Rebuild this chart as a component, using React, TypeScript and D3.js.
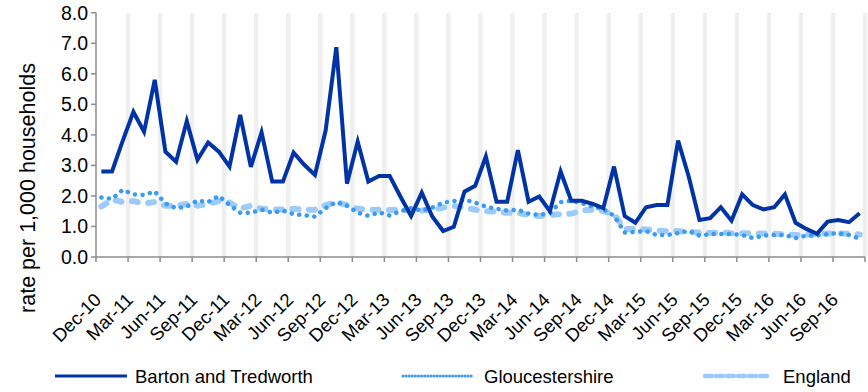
import React from 'react';
import * as d3 from 'd3';

// 72 monthly categories, Dec-10 .. Nov-16
const categories: string[] = d3
  .timeMonth.range(new Date(2010, 11, 1), new Date(2016, 11, 1))
  .map((d) => d3.timeFormat('%b-%y')(d));

const tickEvery = 3;
const yTicks = [0, 1, 2, 3, 4, 5, 6, 7, 8];

const barton = [
  2.8, 2.8, 3.8, 4.75, 4.1, 5.8, 3.45, 3.12, 4.45, 3.18,
  3.75, 3.45, 2.96, 4.65, 2.95, 4.08, 2.47, 2.47, 3.42, 3.02,
  2.69, 4.14, 6.87, 2.4, 3.78, 2.47, 2.65, 2.65, 1.98, 1.34,
  2.11, 1.32, 0.85, 0.99, 2.14, 2.33, 3.29, 1.81, 1.81, 3.5,
  1.81, 1.98, 1.5, 2.8, 1.84, 1.84, 1.74, 1.6, 2.96, 1.34,
  1.12, 1.63, 1.7, 1.7, 3.81, 2.63, 1.21, 1.27, 1.63, 1.19,
  2.05, 1.7, 1.56, 1.63, 2.05, 1.12, 0.92, 0.76, 1.16, 1.21,
  1.14, 1.43,
];

const gloucestershire = [
  1.95, 1.9, 2.2, 2.05, 2.03, 2.15, 1.75, 1.6, 1.65, 1.85,
  1.8, 2.0, 1.7, 1.45, 1.45, 1.55, 1.45, 1.52, 1.4, 1.37,
  1.32, 1.6, 1.8, 1.68, 1.45, 1.35, 1.46, 1.36, 1.5, 1.6,
  1.52, 1.62, 1.78, 1.83, 1.88, 1.78, 1.65, 1.58, 1.52, 1.55,
  1.42, 1.38, 1.44, 1.8, 1.84, 1.76, 1.65, 1.57, 1.35, 0.8,
  0.82, 0.85, 0.72, 0.72, 0.78, 0.86, 0.7, 0.75, 0.75, 0.75,
  0.72, 0.62, 0.7, 0.72, 0.72, 0.62, 0.7, 0.7, 0.75, 0.78,
  0.72, 0.6,
];

const england = [
  1.65, 1.88, 1.8, 1.83, 1.75, 1.8, 1.68, 1.68, 1.74, 1.68,
  1.74, 1.83, 1.78, 1.58, 1.68, 1.58, 1.55, 1.56, 1.57, 1.55,
  1.55, 1.7, 1.8, 1.7, 1.58, 1.55, 1.55, 1.54, 1.55, 1.52,
  1.52, 1.55, 1.62, 1.67, 1.62, 1.55, 1.5, 1.48, 1.45, 1.44,
  1.38, 1.34, 1.38, 1.4, 1.42, 1.52, 1.55, 1.5, 1.4, 0.92,
  0.92, 0.9, 0.87, 0.84, 0.85, 0.82, 0.8, 0.79, 0.8, 0.78,
  0.78, 0.77, 0.77, 0.76, 0.74, 0.72, 0.73, 0.74, 0.77, 0.77,
  0.76, 0.74,
];

const seriesNames = ['Barton and Tredworth', 'Gloucestershire', 'England'];

const W = 868;
const H = 392;
const M = { left: 96, right: 865, top: 12.7, bottom: 257 };
const FONT = 'Liberation Sans, Arial, sans-serif';

const C_BARTON = '#0033a6';
const C_GLOS = '#3a9bf5';
const C_ENG = '#9ccbfb';
const C_AXIS = '#8c8c8c';
const C_GRID = '#efefef';

export default function App() {
  const x = d3
    .scaleBand<number>()
    .domain(d3.range(categories.length))
    .range([M.left, M.right])
    .paddingInner(0)
    .paddingOuter(0);
  const y = d3.scaleLinear().domain([0, 8]).range([M.bottom, M.top]);
  const cx = (i: number) => (x(i) as number) + x.bandwidth() / 2;
  const line = d3
    .line<number>()
    .x((_, i) => cx(i))
    .y((d) => y(d));

  const tickIdx = d3.range(0, categories.length + 1, tickEvery);
  const tickX = (i: number) =>
    i >= categories.length ? M.right : (x(i) as number);

  const legend = [
    { name: seriesNames[0], x1: 55, x2: 127, tx: 135, color: C_BARTON, w: 3, dash: undefined, cap: 'butt' },
    { name: seriesNames[1], x1: 403, x2: 473, tx: 484, color: C_GLOS, w: 3, dash: '0.1 3', cap: 'round' },
    { name: seriesNames[2], x1: 705, x2: 770, tx: 783, color: C_ENG, w: 4.5, dash: '7 4', cap: 'round' },
  ];
  const legendY = 376;

  return (
    <svg
      width={W}
      height={H}
      style={{ position: 'absolute', left: 0, top: 0, background: '#fff' }}
      fontFamily={FONT}
    >
      {/* vertical stripes */}
      {tickIdx.slice(1).map((i) => (
        <line
          key={'g' + i}
          x1={tickX(i)}
          x2={tickX(i)}
          y1={M.top}
          y2={M.bottom}
          stroke={C_GRID}
          strokeWidth={4.5}
        />
      ))}

      {/* axes */}
      <line x1={M.left} x2={M.left} y1={M.top} y2={M.bottom} stroke={C_AXIS} strokeWidth={1.5} />
      <line x1={M.left} x2={M.right} y1={M.bottom} y2={M.bottom} stroke={C_AXIS} strokeWidth={1.5} />
      {yTicks.map((t) => (
        <g key={'y' + t}>
          <line x1={M.left - 5} x2={M.left} y1={y(t)} y2={y(t)} stroke={C_AXIS} strokeWidth={1.5} />
          <text x={88} y={y(t)} dy="0.35em" textAnchor="end" fontSize={19.5} fill="#000">
            {t.toFixed(1)}
          </text>
        </g>
      ))}
      {tickIdx.map((i) => (
        <line
          key={'xt' + i}
          x1={tickX(i)}
          x2={tickX(i)}
          y1={M.bottom}
          y2={M.bottom + 5}
          stroke={C_AXIS}
          strokeWidth={1.5}
        />
      ))}
      {tickIdx
        .filter((i) => i < categories.length)
        .map((i) => (
          <text
            key={'xl' + i}
            transform={`translate(${cx(i) + 1},${M.bottom + 44}) rotate(-45)`}
            textAnchor="end"
            fontSize={18.5}
            fill="#000"
          >
            {categories[i]}
          </text>
        ))}

      <text
        transform={`translate(35,188) rotate(-90)`}
        textAnchor="middle"
        fontSize={21.5}
        fill="#000"
      >
        rate per 1,000 households
      </text>

      {/* series */}
      <path d={line(england) || ''} fill="none" stroke={C_ENG} strokeWidth={6} strokeDasharray="6 10.5" strokeLinecap="round" />
      <path d={line(gloucestershire) || ''} fill="none" stroke={C_GLOS} strokeWidth={4.5} strokeDasharray="0.1 7.5" strokeLinecap="round" />
      <path d={line(barton) || ''} fill="none" stroke={C_BARTON} strokeWidth={4} strokeLinejoin="miter" />

      {/* legend */}
      {legend.map((l) => (
        <g key={l.name}>
          <line
            x1={l.x1}
            x2={l.x2}
            y1={legendY}
            y2={legendY}
            stroke={l.color}
            strokeWidth={l.w}
            strokeDasharray={l.dash}
            strokeLinecap={l.cap as any}
          />
          <text x={l.tx} y={legendY} dy="0.36em" fontSize={18.5} fill="#000">
            {l.name}
          </text>
        </g>
      ))}
    </svg>
  );
}
